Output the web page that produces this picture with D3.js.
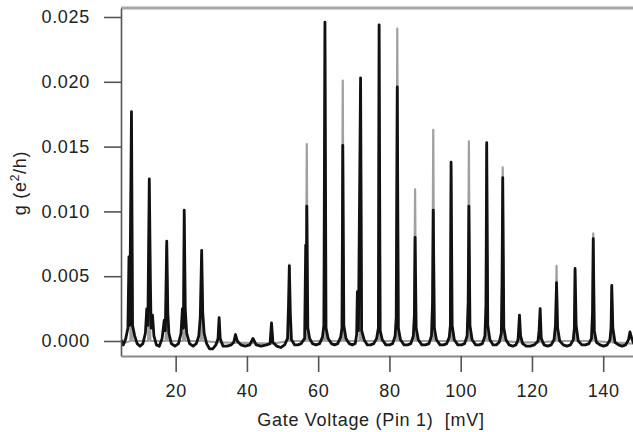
<!DOCTYPE html>
<html>
<head>
<meta charset="utf-8">
<script src="https://d3js.org/d3.v7.min.js"></script>
<style>
body { margin: 0; background: #fff; }
svg text { font-family: "Liberation Sans", Arial, sans-serif; }
</style>
</head>
<body>
<div id="chart"></div>
<script>
// tick values
var xTicks = [20, 40, 60, 80, 100, 120, 140];
var yTicks = [0, 0.005, 0.010, 0.015, 0.020, 0.025];

// main sweep (black), [gate voltage mV, g in e^2/h]
var blackTrace = [
  [4.7, 0.0001], [5.3, -0.0003], [6.0, 0.0002], [6.6, 0.0010], [6.9, 0.0065], [7.1, 0.0012],
  [7.6, 0.0177], [7.9, 0.0012], [8.5, 0.0004], [9.2, -0.0002], [10.0, -0.0004], [10.8, -0.0002],
  [11.5, 0.0006], [11.9, 0.0025], [12.2, 0.0012], [12.6, 0.0125], [12.9, 0.0048], [13.1, 0.0010],
  [13.5, 0.0020], [13.9, 0.0004], [14.6, -0.0003], [15.4, -0.0004], [16.2, 0.0002], [16.8, 0.0016],
  [17.1, 0.0008], [17.5, 0.0077], [17.8, 0.0022], [18.1, 0.0006], [18.8, -0.0002], [19.8, -0.0004],
  [20.8, -0.0002], [21.5, 0.0006], [21.9, 0.0025], [22.2, 0.0010], [22.4, 0.0101], [22.7, 0.0024],
  [23.1, 0.0006], [23.9, -0.0002], [24.9, -0.0004], [25.8, -0.0002], [26.5, 0.0004], [26.9, 0.0018],
  [27.3, 0.0070], [27.6, 0.0022], [28.0, 0.0006], [28.7, -0.0002], [29.5, -0.0006], [30.4, -0.0006],
  [31.3, -0.0003], [31.9, 0.0002], [32.2, 0.0018], [32.5, 0.0002], [33.3, -0.0004], [34.4, -0.0004],
  [35.6, -0.0003], [36.3, -0.0001], [36.8, 0.0005], [37.3, 0.0000], [38.3, -0.0003], [39.5, -0.0004],
  [40.8, -0.0003], [41.7, 0.0002], [42.6, -0.0003], [44.0, -0.0004], [45.5, -0.0003], [46.5, -0.0002],
  [46.9, 0.0014], [47.3, -0.0001], [48.4, -0.0004], [49.5, -0.0005], [50.6, -0.0003], [51.4, 0.0002],
  [51.7, 0.0030], [51.9, 0.0058], [52.2, 0.0020], [52.5, 0.0001], [53.4, -0.0003], [54.3, -0.0003],
  [55.2, -0.0002], [56.2, 0.0002], [56.5, 0.0074], [56.7, 0.0010], [56.8, 0.0104], [57.1, 0.0010],
  [57.6, 0.0002], [58.4, -0.0002], [59.4, -0.0003], [60.4, -0.0002], [61.2, 0.0003], [61.6, 0.0012],
  [61.9, 0.0246], [62.2, 0.0010], [62.8, 0.0002], [63.7, -0.0002], [64.6, -0.0003], [65.5, -0.0002],
  [66.3, 0.0003], [66.7, 0.0010], [66.9, 0.0151], [67.2, 0.0012], [67.8, 0.0002], [68.7, -0.0002],
  [69.6, -0.0003], [70.4, -0.0002], [70.8, 0.0005], [71.0, 0.0038], [71.3, 0.0008], [71.9, 0.0203],
  [72.2, 0.0008], [72.9, 0.0001], [73.8, -0.0003], [74.7, -0.0003], [75.6, -0.0002], [76.4, 0.0002],
  [76.9, 0.0010], [77.1, 0.0244], [77.4, 0.0008], [78.0, 0.0001], [79.0, -0.0003], [80.0, -0.0003],
  [80.9, -0.0002], [81.6, 0.0004], [81.9, 0.0018], [82.2, 0.0196], [82.5, 0.0010], [83.1, 0.0001],
  [84.1, -0.0003], [85.1, -0.0003], [86.0, -0.0002], [86.7, 0.0004], [87.0, 0.0020], [87.2, 0.0080],
  [87.5, 0.0010], [88.1, 0.0001], [89.1, -0.0003], [90.1, -0.0003], [91.1, -0.0002], [91.8, 0.0004],
  [92.1, 0.0030], [92.3, 0.0101], [92.6, 0.0010], [93.2, 0.0001], [94.2, -0.0003], [95.2, -0.0003],
  [96.1, -0.0002], [96.8, 0.0003], [97.1, 0.0012], [97.3, 0.0138], [97.6, 0.0012], [98.2, 0.0001],
  [99.2, -0.0003], [100.2, -0.0003], [101.1, -0.0002], [101.8, 0.0004], [102.1, 0.0030], [102.3, 0.0104],
  [102.6, 0.0012], [103.2, 0.0001], [104.2, -0.0003], [105.2, -0.0003], [106.1, -0.0002], [106.8, 0.0004],
  [107.1, 0.0028], [107.3, 0.0153], [107.6, 0.0012], [108.2, 0.0001], [109.1, -0.0003], [110.0, -0.0003],
  [110.8, -0.0001], [111.4, 0.0006], [111.6, 0.0045], [111.8, 0.0126], [112.1, 0.0010], [112.7, 0.0001],
  [113.6, -0.0003], [114.6, -0.0004], [115.5, -0.0003], [116.1, 0.0001], [116.5, 0.0020], [116.8, 0.0004],
  [117.4, -0.0002], [118.4, -0.0004], [119.5, -0.0004], [120.7, -0.0003], [121.7, 0.0000], [122.0, 0.0008],
  [122.3, 0.0025], [122.6, 0.0002], [123.4, -0.0003], [124.4, -0.0004], [125.4, -0.0003], [126.2, 0.0001],
  [126.6, 0.0012], [126.9, 0.0045], [127.2, 0.0010], [127.8, 0.0000], [128.8, -0.0003], [129.8, -0.0004],
  [130.8, -0.0003], [131.6, 0.0001], [131.9, 0.0010], [132.1, 0.0056], [132.4, 0.0012], [133.0, 0.0000],
  [134.0, -0.0003], [135.0, -0.0003], [136.0, -0.0002], [136.7, 0.0002], [137.0, 0.0022], [137.2, 0.0079],
  [137.5, 0.0008], [138.1, -0.0001], [139.1, -0.0003], [140.1, -0.0004], [141.1, -0.0003], [141.9, 0.0001],
  [142.2, 0.0010], [142.4, 0.0043], [142.7, 0.0010], [143.3, -0.0001], [144.3, -0.0003], [145.3, -0.0004],
  [146.3, -0.0003], [147.1, 0.0001], [147.5, 0.0007], [148.0, 0.0002], [148.6, -0.0002]
];

// second sweep (gray), drawn underneath
var grayTrace = [
  [4.7, -0.0002], [7.3, 0.0000], [7.6, 0.0170], [7.9, 0.0000],
  [12.3, 0.0000], [12.6, 0.0120], [12.9, 0.0000],
  [17.2, 0.0000], [17.5, 0.0074], [17.8, 0.0000],
  [22.1, 0.0000], [22.4, 0.0097], [22.7, 0.0000],
  [27.0, 0.0000], [27.3, 0.0066], [27.6, 0.0000],
  [31.9, -0.0001], [32.2, 0.0015], [32.5, -0.0001],
  [46.6, -0.0002], [46.9, 0.0012], [47.2, -0.0002],
  [51.6, 0.0000], [51.9, 0.0059], [52.2, 0.0000],
  [56.5, 0.0000], [56.8, 0.0152], [57.1, 0.0000],
  [61.6, 0.0000], [61.9, 0.0240], [62.2, 0.0000],
  [66.6, 0.0000], [66.9, 0.0201], [67.2, 0.0000],
  [71.6, 0.0000], [71.9, 0.0198], [72.2, 0.0000],
  [76.8, 0.0000], [77.1, 0.0244], [77.4, 0.0000],
  [81.9, 0.0000], [82.2, 0.0241], [82.5, 0.0000],
  [86.9, 0.0000], [87.2, 0.0117], [87.5, 0.0000],
  [92.0, 0.0000], [92.3, 0.0163], [92.6, 0.0000],
  [97.0, 0.0000], [97.3, 0.0134], [97.6, 0.0000],
  [102.0, 0.0000], [102.3, 0.0154], [102.6, 0.0000],
  [107.0, 0.0000], [107.3, 0.0150], [107.6, 0.0000],
  [111.5, 0.0000], [111.8, 0.0134], [112.1, 0.0000],
  [116.2, -0.0001], [116.5, 0.0018], [116.8, -0.0001],
  [122.0, -0.0001], [122.3, 0.0023], [122.6, -0.0001],
  [126.6, 0.0000], [126.9, 0.0058], [127.2, 0.0000],
  [131.8, 0.0000], [132.1, 0.0054], [132.4, 0.0000],
  [136.9, 0.0000], [137.2, 0.0083], [137.5, 0.0000],
  [142.1, -0.0001], [142.4, 0.0041], [142.7, -0.0001],
  [148.6, -0.0002]
];

var draw_chart = function() {

    var w = 633, h = 432;
    var plotLeft = 121, plotRight = 633, plotTop = 8, plotBottom = 356;
    var fontSize = 18;

    var svg = d3.select("#chart")
        .append("svg")
        .attr("width", w)
        .attr("height", h);

    var x = d3.scaleLinear()
        .domain([4.66, 148.36])
        .range([plotLeft, plotRight]);

    var y = d3.scaleLinear()
        .domain([-0.001157, 0.025695])
        .range([plotBottom, plotTop]);

    svg.append("clipPath")
        .attr("id", "plotclip")
        .append("rect")
        .attr("x", plotLeft)
        .attr("y", plotTop)
        .attr("width", plotRight - plotLeft)
        .attr("height", plotBottom - plotTop);

    var line = d3.line()
        .x(function(d) { return x(d[0]); })
        .y(function(d) { return y(d[1]); });

    var traces = svg.append("g").attr("clip-path", "url(#plotclip)");

    traces.append("path")
        .datum(grayTrace)
        .attr("d", line)
        .attr("fill", "none")
        .attr("stroke", "#a0a0a0")
        .attr("stroke-width", 2.2)
        .attr("stroke-linejoin", "round");

    traces.append("path")
        .datum(blackTrace)
        .attr("d", line)
        .attr("fill", "none")
        .attr("stroke", "#111")
        .attr("stroke-width", 2.8)
        .attr("stroke-linejoin", "round");

    // frame: gray bar on top, axes left and bottom
    svg.append("line")
        .attr("x1", plotLeft).attr("x2", plotRight)
        .attr("y1", plotTop).attr("y2", plotTop)
        .attr("stroke", "#a8a8a8")
        .attr("stroke-width", 3);

    var yAxis = svg.append("g")
        .attr("transform", "translate(" + plotLeft + ",0)")
        .call(d3.axisLeft(y)
            .tickValues(yTicks)
            .tickSize(17)
            .tickSizeOuter(0)
            .tickPadding(14)
            .tickFormat(d3.format(".3f")));

    var xAxis = svg.append("g")
        .attr("transform", "translate(0," + plotBottom + ")")
        .call(d3.axisBottom(x)
            .tickValues(xTicks)
            .tickSize(16)
            .tickSizeOuter(0)
            .tickPadding(12));

    yAxis.select(".domain").attr("stroke", "#555").attr("stroke-width", 1.6);
    yAxis.selectAll(".tick line").attr("stroke", "#555").attr("stroke-width", 1.6);
    xAxis.select(".domain").attr("stroke", "#8a8a8a").attr("stroke-width", 1.8);
    xAxis.selectAll(".tick line").attr("stroke", "#555").attr("stroke-width", 1.6);

    svg.selectAll(".tick text")
        .attr("font-size", fontSize)
        .attr("font-family", "Liberation Sans, Arial, sans-serif")
        .attr("letter-spacing", 0.7)
        .attr("fill", "#222");

    // axis titles
    svg.append("text")
        .attr("x", 371)
        .attr("y", 426)
        .attr("text-anchor", "middle")
        .attr("font-size", fontSize)
        .attr("letter-spacing", 0.7)
        .attr("fill", "#222")
        .text("Gate Voltage (Pin 1)  [mV]")
        .style("white-space", "pre");

    var ytitle = svg.append("text")
        .attr("transform", "translate(26,183) rotate(-90)")
        .attr("text-anchor", "middle")
        .attr("font-size", fontSize)
        .attr("letter-spacing", 0.7)
        .attr("fill", "#222");
    ytitle.append("tspan").text("g (e");
    ytitle.append("tspan").attr("font-size", 12).attr("dy", -7).text("2");
    ytitle.append("tspan").attr("dy", 7).text("/h)");
}

window.onload = function() {
    draw_chart();
}
</script>
</body>
</html>
